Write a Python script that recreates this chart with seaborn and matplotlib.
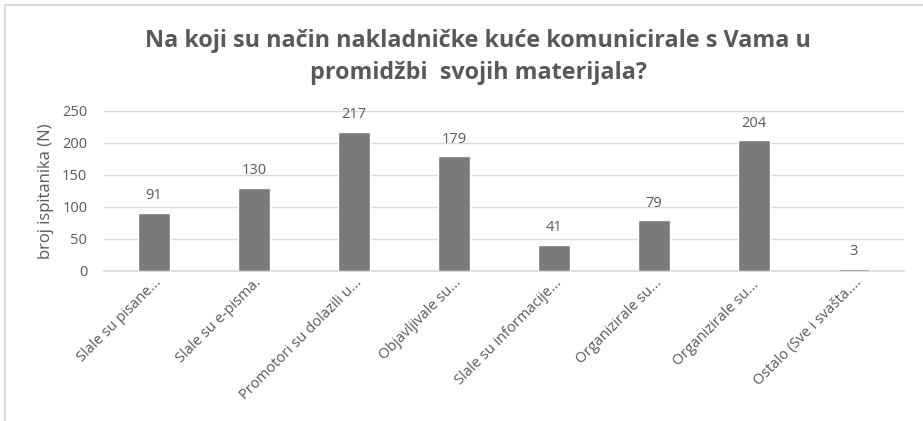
import matplotlib
matplotlib.use("Agg")
import matplotlib.pyplot as plt
import seaborn as sns
import pandas as pd
from matplotlib.patches import Rectangle

# chart data
categories = [
    "Slale su pisane...",
    "Slale su e-pisma.",
    "Promotori su dolazili u...",
    "Objavljivale su...",
    "Slale su informacije...",
    "Organizirale su...",
    "Organizirale su... ",
    "Ostalo (Sve i svašta....",
]
counts = [91, 130, 217, 179, 41, 79, 204, 3]
y_ticks = [0, 50, 100, 150, 200, 250]

title = "Na koji su način nakladničke kuće komunicirale s Vama u\npromidžbi  svojih materijala?"
y_label = "broj ispitanika (N)"

text_color = "#595959"
bar_color = "#7a7a7a"

sns.set_theme(style="white")
plt.rcParams["font.family"] = ["Open Sans", "DejaVu Sans"]

df = pd.DataFrame({"cat": categories, "n": counts})

fig = plt.figure(figsize=(9.23, 4.21), dpi=100)
ax = fig.add_axes([104 / 923, 150 / 421, 800 / 923, 160 / 421])

sns.barplot(data=df, x="cat", y="n", color=bar_color, width=0.32,
            saturation=1, ax=ax, zorder=3)

ax.set_ylim(0, 250)
ax.set_yticks(y_ticks)
ax.set_xlim(-0.5, len(categories) - 0.5)
ax.yaxis.grid(True, color="#d9d9d9", linewidth=1, zorder=0)
for s in ["top", "right", "left"]:
    ax.spines[s].set_visible(False)
ax.spines["bottom"].set_color("#d9d9d9")
ax.tick_params(axis="y", colors=text_color, labelsize=10.5, length=0, pad=12)
ax.tick_params(axis="x", colors=text_color, labelsize=10.5, length=0, pad=3)
plt.setp(ax.get_xticklabels(), rotation=45, ha="right", rotation_mode="anchor")
ax.set_xlabel("")
ax.set_ylabel(y_label, color=text_color, fontsize=12, labelpad=6)

for i, v in enumerate(counts):
    ax.annotate(str(v), (i, v), xytext=(0, 7), textcoords="offset points",
                ha="center", va="bottom", color=text_color, fontsize=10.5)

fig.text(478 / 923, 1 - 57 / 421, title, ha="center", va="center",
         fontsize=16.8, fontweight="bold", color=text_color, linespacing=1.4)

# chart border (cropped at right and bottom)
fig.patches.append(Rectangle((5 / 923, -0.1), 1.2, 1 - 5 / 421 + 0.1,
                             transform=fig.transFigure, fill=False,
                             edgecolor="#d9d9d9", linewidth=1.5))

fig.savefig("out.png", dpi=100)
